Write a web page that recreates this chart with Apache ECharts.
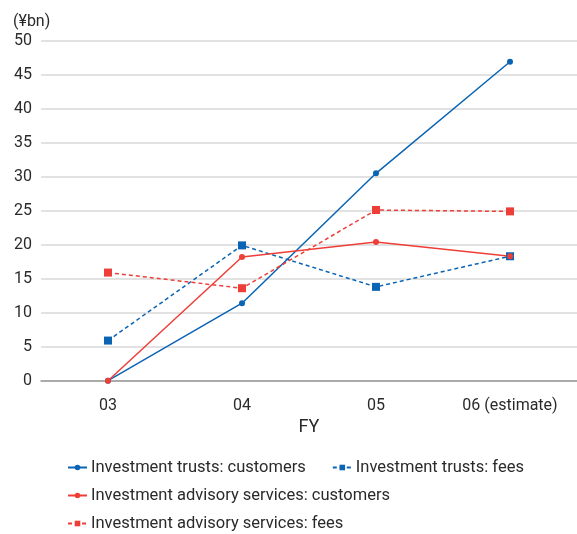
<!DOCTYPE html>
<html><head><meta charset="utf-8">
<script src="https://cdn.jsdelivr.net/npm/echarts@6/dist/echarts.min.js"></script>
<style>html,body{margin:0;padding:0;background:#fff}#c{width:577px;height:534px}</style>
</head><body><div id="c"></div>
<script>
const categories = ['03', '04', '05', '06 (estimate)'];
const trustCustomers = [0, 11.4, 30.5, 46.9];
const trustFees = [5.9, 19.9, 13.8, 18.3];
const advisoryCustomers = [0, 18.2, 20.4, 18.3];
const advisoryFees = [15.9, 13.6, 25.1, 24.9];
const seriesNames = [
  'Investment trusts: customers',
  'Investment trusts: fees',
  'Investment advisory services: customers',
  'Investment advisory services: fees'
];
const BLUE = '#0a64b4', RED = '#ee3e38';
const font = 'Roboto, "Liberation Sans", sans-serif';
const TXT = '#2a2a2a';
function mk(name, data, color, dashed) {
  return {
    name, type: 'line', data,
    symbol: dashed ? 'rect' : 'circle',
    symbolSize: dashed ? 8 : 6,
    itemStyle: { color },
    lineStyle: { color, width: 1.5, type: dashed ? [4, 3] : 'solid' },
    emphasis: { disabled: true }
  };
}
const legendCommon = {
  itemWidth: 19, itemHeight: 7, itemGap: 26,
  textStyle: { fontFamily: font, fontSize: 16.5, color: TXT, padding: [0, 0, 0, -1] },
  padding: 0
};
const chart = echarts.init(document.getElementById('c'));
chart.setOption({
  animation: false,
  grid: { left: 41, top: 40.7, width: 538, height: 340 },
  graphic: [{ type: 'text', left: 13, top: 14, style: { text: '(¥bn)', font: '16px ' + font, fill: TXT } }],
  xAxis: {
    type: 'category', data: categories,
    name: 'FY', nameLocation: 'middle', nameGap: 38,
    nameTextStyle: { fontFamily: font, fontSize: 18, color: TXT },
    axisLine: { lineStyle: { color: '#999', width: 1.5 } },
    axisTick: { show: false },
    axisLabel: { fontFamily: font, fontSize: 16, color: TXT, margin: 17 }
  },
  yAxis: {
    type: 'value', min: 0, max: 50, interval: 5,
    axisLine: { show: false }, axisTick: { show: false },
    axisLabel: { fontFamily: font, fontSize: 16, color: TXT, margin: 9 },
    splitLine: { lineStyle: { color: '#d9d9d9', width: 1.5 } }
  },
  legend: [
    Object.assign({ left: 67, top: 459, data: [seriesNames[0], seriesNames[1]] }, legendCommon),
    Object.assign({ left: 67, top: 487, data: [seriesNames[2]] }, legendCommon),
    Object.assign({ left: 67, top: 515, data: [seriesNames[3]] }, legendCommon)
  ],
  series: [
    mk(seriesNames[0], trustCustomers, BLUE, false),
    mk(seriesNames[1], trustFees, BLUE, true),
    mk(seriesNames[2], advisoryCustomers, RED, false),
    mk(seriesNames[3], advisoryFees, RED, true)
  ]
});
</script></body></html>
